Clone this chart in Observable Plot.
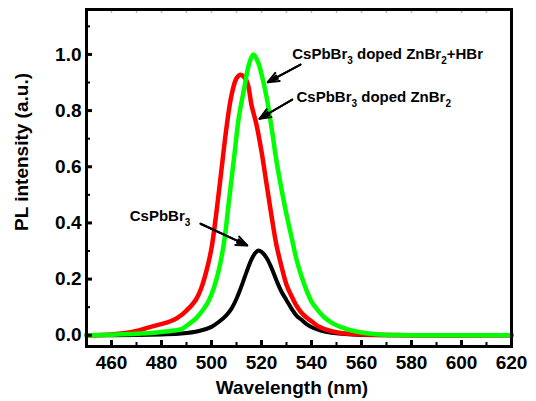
<!DOCTYPE html>
<html><head><meta charset="utf-8">
<script src="https://cdn.jsdelivr.net/npm/d3@7"></script>
<script src="https://cdn.jsdelivr.net/npm/@observablehq/plot@0.6"></script>
<style>body{margin:0;background:#fff} #chart{width:536px;height:401px}</style>
</head><body><div id="chart"></div>
<script>
// ---- data ----
const seriesNames = ["CsPbBr3", "CsPbBr3 doped ZnBr2", "CsPbBr3 doped ZnBr2+HBr"];

const wlBlack = [450,470,480,488,495,500,503,506,508,510,512,514,516,517.5,518.8,520,522,524,526,528,530,532,534,536,538,541,544,548,552,558,570,620];
const piBlack = [0,0.001,0.003,0.006,0.015,0.03,0.048,0.072,0.095,0.13,0.175,0.225,0.27,0.293,0.302,0.297,0.276,0.24,0.195,0.155,0.125,0.095,0.07,0.055,0.04,0.025,0.016,0.009,0.005,0.002,0,0];

const wlRed = [450,460,465,470,475,479,482,485,488,490,492,494,496,498,500,502,504,506,508,510,511.6,513,514.5,516,518,520,522,524,526,528,530,532,534,536,538,540,543,546,550,555,560,570,580,600,620];
const piRed = [0,0.003,0.007,0.015,0.028,0.038,0.045,0.055,0.072,0.088,0.106,0.13,0.17,0.23,0.31,0.44,0.59,0.74,0.855,0.915,0.928,0.92,0.895,0.82,0.75,0.655,0.54,0.425,0.32,0.245,0.18,0.14,0.105,0.08,0.063,0.05,0.03,0.02,0.011,0.005,0.003,0.001,0,0,0];

const wlGreen = [450,460,470,480,485,488,491,494,497,499,501,503,505,507,509,511,513,515,516.7,518.5,520,522,524,526,528,530,532,534,536,538,540,542,545,548,552,556,560,566,575,590,620];
const piGreen = [0,0.002,0.005,0.012,0.017,0.022,0.04,0.062,0.095,0.125,0.17,0.235,0.33,0.48,0.63,0.78,0.875,0.965,1.0,0.975,0.93,0.85,0.74,0.62,0.52,0.43,0.35,0.27,0.21,0.16,0.12,0.095,0.065,0.045,0.028,0.017,0.01,0.004,0.001,0,0];

const seriesColors = ["#000000", "#ff0000", "#00ff00"];

const xTicks = [460,480,500,520,540,560,580,600,620];
const xMinor = [470,490,510,530,550,570,590,610];
const xTop = [460,470,480,490,500,510,520,530,540,550,560,570,580,590,600,610];
const yTicks = [0,0.2,0.4,0.6,0.8,1.0];
const yMinor = [0.1,0.3,0.5,0.7,0.9,1.1];

const annotText = ["CsPbBr_3 doped ZnBr_2+HBr", "CsPbBr_3 doped ZnBr_2", "CsPbBr_3"];
const annotX = [532.3, 534, 467.3];
const annotY = [1.0025, 0.848, 0.4235];
const arrowX1 = [535.6, 532.3, 495.6];
const arrowY1 = [0.964, 0.839, 0.397];
const arrowX2 = [522.5, 519.2, 514.3];
const arrowY2 = [0.901, 0.771, 0.32];

const xLabel = "Wavelength (nm)";
const yLabel = "PL intensity (a.u.)";

// ---- build tables ----
const mk = (wl, pi, name) => wl.map((w, i) => ({wl: w, pi: pi[i], name}));
const dBlack = mk(wlBlack, piBlack, seriesNames[0]);
const dRed = mk(wlRed, piRed, seriesNames[1]);
const dGreen = mk(wlGreen, piGreen, seriesNames[2]);
const annots = annotText.map((t, i) => ({t, x: annotX[i], y: annotY[i]}));
const arrows = arrowX1.map((x1, i) => ({x1, y1: arrowY1[i], x2: arrowX2[i], y2: arrowY2[i]}));

const W = 536, H = 401, ML = 86, MR = 25, MT = 9, MB = 55;
const FW = W - ML - MR, FH = H - MT - MB;

const chart = Plot.plot({
  width: W, height: H,
  marginLeft: ML, marginRight: MR, marginTop: MT, marginBottom: MB,
  style: {fontFamily: "Arial, 'Liberation Sans', sans-serif", fontWeight: "bold", fontSize: "19px", background: "white", color: "black"},
  x: {domain: [450, 620], label: null},
  y: {domain: [-0.04, 1.16], label: null},
  marks: [
    Plot.line(dBlack, {x: "wl", y: "pi", stroke: seriesColors[0], strokeWidth: 4, curve: "catmull-rom"}),
    Plot.line(dRed, {x: "wl", y: "pi", stroke: seriesColors[1], strokeWidth: 4.5, curve: "catmull-rom"}),
    Plot.line(dGreen, {x: "wl", y: "pi", stroke: seriesColors[2], strokeWidth: 4.5, curve: "catmull-rom"}),
    Plot.tickX(xTicks, {x: d => d, insetTop: FH - 6, stroke: "black", strokeWidth: 3}),
    Plot.tickX(xMinor, {x: d => d, insetTop: FH - 4, stroke: "black", strokeWidth: 2}),
    Plot.tickX(xTop, {x: d => d, insetBottom: FH - 4, stroke: "#bbbbbb", strokeWidth: 1.5}),
    Plot.tickY(yTicks, {y: d => d, insetRight: FW - 6, stroke: "black", strokeWidth: 3}),
    Plot.tickY(yMinor, {y: d => d, insetRight: FW - 4, stroke: "black", strokeWidth: 2}),
    Plot.frame({stroke: "black", strokeWidth: 3}),
    Plot.axisX({ticks: xTicks, tickSize: 0, tickPadding: 9, fontSize: 19, fontWeight: "bold", label: null, tickFormat: d => String(d)}),
    Plot.axisY({ticks: yTicks, tickSize: 0, tickPadding: 5, fontSize: 19, fontWeight: "bold", label: null, tickFormat: d3.format(".1f")}),
    Plot.text([xLabel], {text: d => d, frameAnchor: "bottom", textAnchor: "middle", lineAnchor: "middle", dx: -7, dy: 41, fontSize: 19, fontWeight: "bold"}),
    Plot.text([yLabel], {text: d => d, frameAnchor: "left", textAnchor: "middle", lineAnchor: "middle", rotate: -90, dx: -65, dy: -26, fontSize: 19, fontWeight: "bold"}),
    Plot.arrow(arrows, {x1: "x1", y1: "y1", x2: "x2", y2: "y2", stroke: "black", strokeWidth: 2, headLength: 9, headAngle: 45}),
    Plot.arrow(arrows, {x1: "x1", y1: "y1", x2: "x2", y2: "y2", stroke: "black", strokeWidth: 2, headLength: 8, headAngle: 20}),
    Plot.text(annots, {x: "x", y: "y", text: "t", textAnchor: "start", lineAnchor: "middle", fontSize: 15, fontWeight: "bold"})
  ]
});

// subscripts: "_d" marks a subscript digit
chart.querySelectorAll("text").forEach(t => {
  const s = t.textContent;
  if (!/_\d/.test(s)) return;
  while (t.firstChild) t.removeChild(t.firstChild);
  let prevSub = false;
  s.split(/(_\d)/).filter(p => p.length).forEach(part => {
    const ts = document.createElementNS("http://www.w3.org/2000/svg", "tspan");
    if (part.startsWith("_")) {
      ts.textContent = part.slice(1);
      ts.setAttribute("font-size", "10");
      ts.setAttribute("dy", "5");
      prevSub = true;
    } else {
      ts.textContent = part;
      if (prevSub) ts.setAttribute("dy", "-5");
      prevSub = false;
    }
    t.appendChild(ts);
  });
});

document.getElementById("chart").appendChild(chart);
</script>
</body></html>
